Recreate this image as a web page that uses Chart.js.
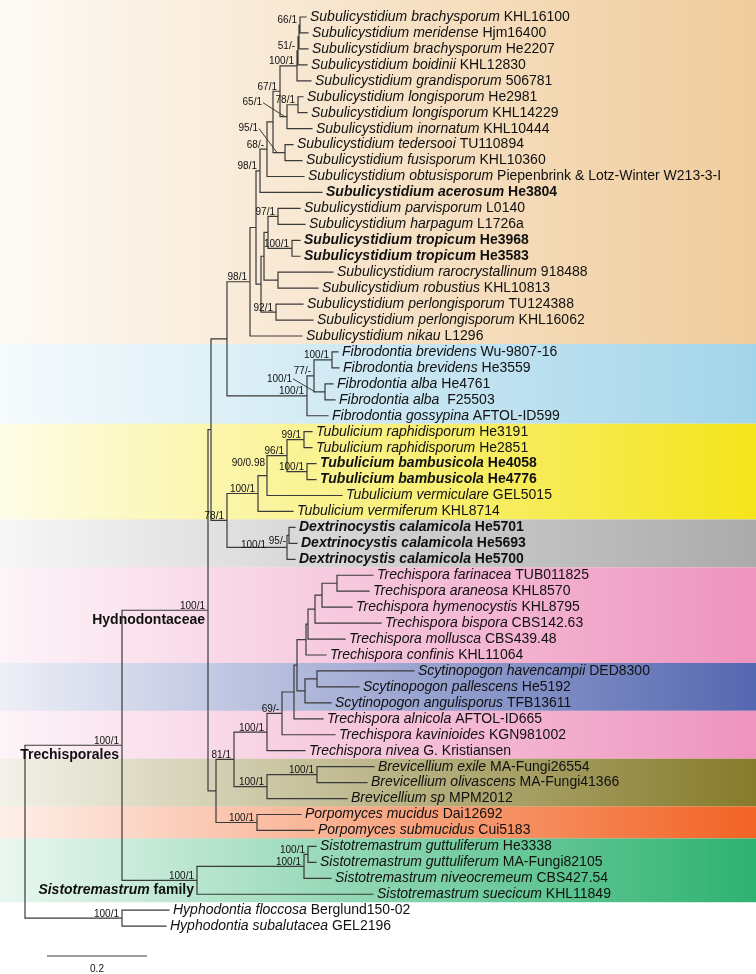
<!DOCTYPE html>
<html>
<head>
<meta charset="utf-8">
<script src="https://cdn.jsdelivr.net/npm/chart.js@4.4.1/dist/chart.umd.min.js"></script>
<style>
  html, body { margin: 0; padding: 0; background: #fff; }
  #wrap { width: 756px; height: 974px; position: relative; }
</style>
</head>
<body>
<div id="wrap"><canvas id="tree"></canvas></div>
<script>
// leaves, top to bottom: [italic name, voucher]
const taxa = [
  ['Subulicystidium brachysporum', 'KHL16100'],
  ['Subulicystidium meridense', 'Hjm16400'],
  ['Subulicystidium brachysporum', 'He2207'],
  ['Subulicystidium boidinii', 'KHL12830'],
  ['Subulicystidium grandisporum', '506781'],
  ['Subulicystidium longisporum', 'He2981'],
  ['Subulicystidium longisporum', 'KHL14229'],
  ['Subulicystidium inornatum', 'KHL10444'],
  ['Subulicystidium tedersooi', 'TU110894'],
  ['Subulicystidium fusisporum', 'KHL10360'],
  ['Subulicystidium obtusisporum', 'Piepenbrink & Lotz-Winter W213-3-I'],
  ['Subulicystidium acerosum', 'He3804'],
  ['Subulicystidium parvisporum', 'L0140'],
  ['Subulicystidium harpagum', 'L1726a'],
  ['Subulicystidium tropicum', 'He3968'],
  ['Subulicystidium tropicum', 'He3583'],
  ['Subulicystidium rarocrystallinum', '918488'],
  ['Subulicystidium robustius', 'KHL10813'],
  ['Subulicystidium perlongisporum', 'TU124388'],
  ['Subulicystidium perlongisporum', 'KHL16062'],
  ['Subulicystidium nikau', 'L1296'],
  ['Fibrodontia brevidens', 'Wu-9807-16'],
  ['Fibrodontia brevidens', 'He3559'],
  ['Fibrodontia alba', 'He4761'],
  ['Fibrodontia alba', ' F25503'],
  ['Fibrodontia gossypina', 'AFTOL-ID599'],
  ['Tubulicium raphidisporum', 'He3191'],
  ['Tubulicium raphidisporum', 'He2851'],
  ['Tubulicium bambusicola', 'He4058'],
  ['Tubulicium bambusicola', 'He4776'],
  ['Tubulicium vermiculare', 'GEL5015'],
  ['Tubulicium vermiferum', 'KHL8714'],
  ['Dextrinocystis calamicola', 'He5701'],
  ['Dextrinocystis calamicola', 'He5693'],
  ['Dextrinocystis calamicola', 'He5700'],
  ['Trechispora farinacea', 'TUB011825'],
  ['Trechispora araneosa', 'KHL8570'],
  ['Trechispora hymenocystis', 'KHL8795'],
  ['Trechispora bispora', 'CBS142.63'],
  ['Trechispora mollusca', 'CBS439.48'],
  ['Trechispora confinis', 'KHL11064'],
  ['Scytinopogon havencampii', 'DED8300'],
  ['Scytinopogon pallescens', 'He5192'],
  ['Scytinopogon angulisporus', 'TFB13611'],
  ['Trechispora alnicola', 'AFTOL-ID665'],
  ['Trechispora kavinioides', 'KGN981002'],
  ['Trechispora nivea', 'G. Kristiansen'],
  ['Brevicellium exile', 'MA-Fungi26554'],
  ['Brevicellium olivascens', 'MA-Fungi41366'],
  ['Brevicellium sp', 'MPM2012'],
  ['Porpomyces mucidus', 'Dai12692'],
  ['Porpomyces submucidus', 'Cui5183'],
  ['Sistotremastrum guttuliferum', 'He3338'],
  ['Sistotremastrum guttuliferum', 'MA-Fungi82105'],
  ['Sistotremastrum niveocremeum', 'CBS427.54'],
  ['Sistotremastrum suecicum', 'KHL11849'],
  ['Hyphodontia floccosa', 'Berglund150-02'],
  ['Hyphodontia subalutacea', 'GEL2196']
];

// new species, printed in bold
const boldLeaves = [11, 14, 15, 28, 29, 32, 33, 34];

// distance of each tip from the root (substitutions per site)
const tipDepth = [
  0.562, 0.566, 0.566, 0.564, 0.572, 0.556, 0.564, 0.574, 0.536, 0.554,
  0.558, 0.594, 0.550, 0.560, 0.550, 0.550, 0.616, 0.586, 0.556, 0.576,
  0.554, 0.626, 0.628, 0.616, 0.620, 0.606, 0.574, 0.574, 0.582, 0.582,
  0.634, 0.536, 0.540, 0.544, 0.540, 0.696, 0.688, 0.654, 0.712, 0.640,
  0.602, 0.778, 0.668, 0.612, 0.596, 0.620, 0.560, 0.698, 0.684, 0.644,
  0.552, 0.578, 0.582, 0.582, 0.612, 0.696, 0.288, 0.282
];

// internal nodes, children first: [id, children, depth, ML bootstrap / BI pp]
const nodes = [
  ['N1', [0, 1], 0.550, '66/1'],
  ['N2', ['N1', 2], 0.548, ''],
  ['N3', ['N2', 3], 0.546, '51/-'],
  ['N4', ['N3', 4], 0.544, '100/1'],
  ['N5', [5, 6], 0.546, '78/1'],
  ['N6', ['N5', 7], 0.524, '65/1'],
  ['N7', ['N4', 'N6'], 0.510, '67/1'],
  ['N8', [8, 9], 0.520, '95/1'],
  ['N9', ['N7', 'N8'], 0.496, ''],
  ['N10', ['N9', 10], 0.484, '68/-'],
  ['N11', ['N10', 11], 0.470, '98/1'],
  ['N12', [12, 13], 0.506, '97/1'],
  ['N13', [14, 15], 0.534, '100/1'],
  ['N14', ['N12', 'N13'], 0.486, ''],
  ['N15', [16, 17], 0.506, ''],
  ['N16', ['N14', 'N15'], 0.478, ''],
  ['N17', [18, 19], 0.502, '92/1'],
  ['N18', ['N16', 'N17'], 0.472, ''],
  ['N19', ['N11', 'N18'], 0.462, ''],
  ['N20', ['N19', 20], 0.450, '98/1'],
  ['F1', [21, 22], 0.614, '100/1'],
  ['F2', [23, 24], 0.600, '100/1'],
  ['F3', ['F1', 'F2'], 0.578, '77/-'],
  ['F4', ['F3', 25], 0.564, '100/1'],
  ['SF', ['N20', 'F4'], 0.404, ''],
  ['T1', [26, 27], 0.558, '99/1'],
  ['T2', [28, 29], 0.564, '100/1'],
  ['T3', ['T1', 'T2'], 0.524, '96/1'],
  ['T4', ['T3', 30], 0.484, '90/0.98'],
  ['T5', ['T4', 31], 0.466, '100/1'],
  ['D1', [32, 33], 0.528, '95/-'],
  ['D2', ['D1', 34], 0.524, '100/1'],
  ['TD', ['T5', 'D2'], 0.404, '78/1'],
  ['P', ['SF', 'TD'], 0.372, ''],
  ['R1', [35, 36], 0.624, ''],
  ['R2', ['R1', 37], 0.594, ''],
  ['R3', ['R2', 38], 0.580, ''],
  ['R4', ['R3', 39], 0.566, ''],
  ['R5', ['R4', 40], 0.562, ''],
  ['S1', [41, 42], 0.584, ''],
  ['S2', ['S1', 43], 0.560, ''],
  ['Y', ['R5', 'S2'], 0.544, ''],
  ['X', ['Y', 44], 0.538, ''],
  ['Z', ['X', 45], 0.514, '69/-'],
  ['K', ['Z', 46], 0.484, '100/1'],
  ['B1', [47, 48], 0.584, '100/1'],
  ['B2', ['B1', 49], 0.484, '100/1'],
  ['L', ['K', 'B2'], 0.418, '81/1'],
  ['PO', [50, 51], 0.464, '100/1'],
  ['M', ['L', 'PO'], 0.382, ''],
  ['H', ['P', 'M'], 0.366, '100/1'],
  ['S3', [52, 53], 0.566, '100/1'],
  ['S4', ['S3', 54], 0.558, '100/1'],
  ['S5', ['S4', 55], 0.344, '100/1'],
  ['TR', ['H', 'S5'], 0.194, '100/1'],
  ['HY', [56, 57], 0.194, '100/1'],
  ['ROOT', ['TR', 'HY'], 0.000, '']
];

const cladeNames = [
  ['H', 'Hydnodontaceae'],
  ['TR', 'Trechisporales'],
  ['S5', 'Sistotremastrum family']
];

// shaded genus blocks: first leaf, last leaf, colour at the right edge
const bandFirst = [0, 21, 26, 32, 35, 41, 44, 47, 50, 52];
const bandLast = [20, 25, 31, 34, 40, 43, 46, 49, 51, 55];
const bandColors = ['#f0cc9c', '#a3d5ea', '#f4e51a', '#ababab', '#ee94be',
                    '#5567b0', '#ee94be', '#857b2a', '#f26324', '#2db270'];

const scaleBar = [0.044, 0.244];
const scaleLabel = '0.2';

// labels that sit away from their node with a pointer line: [dx, dy, pointer end dx] in px
const leaders = { N6: [-25, -14, -2], N8: [-27, -24, -8], F2: [-33, -13, -10] };
// small nudges for crowded support values: [dx, dy] in px
const nudges = { D1: [0, 10], D2: [-18, 2], T4: [1, -8] };

const FONT = '"Liberation Sans", Arial, sans-serif';
const LINE = '#3a3a3a';
const TIP_SIZE = 14;

// lay out the tree: tips on rows, internal nodes halfway between their outer children
const pos = {};
taxa.forEach((t, i) => { pos[i] = { x: tipDepth[i], y: i }; });
nodes.forEach(([id, kids, depth]) => {
  const ys = kids.map(k => pos[k].y);
  pos[id] = { x: depth, y: (ys[0] + ys[ys.length - 1]) / 2 };
});

const branchPoints = [];
const gap = { x: null, y: null };
nodes.forEach(([id, kids]) => {
  const p = pos[id];
  const ys = kids.map(k => pos[k].y);
  branchPoints.push({ x: p.x, y: ys[0] }, { x: p.x, y: ys[ys.length - 1] }, gap);
  kids.forEach(k => {
    branchPoints.push({ x: p.x, y: pos[k].y }, { x: pos[k].x, y: pos[k].y }, gap);
  });
});

const scaleRow = taxa.length + 0.87;

function rgba(hex, a) {
  const n = parseInt(hex.slice(1), 16);
  return `rgba(${n >> 16}, ${(n >> 8) & 255}, ${n & 255}, ${a})`;
}

const treePainter = {
  id: 'treePainter',
  beforeDatasetsDraw(chart) {
    const { ctx, chartArea, scales: { y } } = chart;
    ctx.save();
    bandFirst.forEach((first, i) => {
      const top = i === 0 ? chartArea.top : y.getPixelForValue(first - 0.5);
      const bottom = y.getPixelForValue(bandLast[i] + 0.5);
      const g = ctx.createLinearGradient(chartArea.left, 0, chartArea.right, 0);
      g.addColorStop(0, rgba(bandColors[i], 0.1));
      g.addColorStop(1, rgba(bandColors[i], 1));
      ctx.fillStyle = g;
      ctx.fillRect(chartArea.left, top, chartArea.right - chartArea.left, bottom - top);
    });
    ctx.restore();
  },
  afterDatasetsDraw(chart) {
    const { ctx, scales: { x, y } } = chart;
    ctx.save();
    ctx.fillStyle = '#111';

    // tip labels
    ctx.textBaseline = 'middle';
    ctx.textAlign = 'left';
    taxa.forEach(([name, voucher], i) => {
      const bold = boldLeaves.includes(i) ? 'bold ' : '';
      let px = x.getPixelForValue(tipDepth[i]) + 4;
      const py = y.getPixelForValue(i);
      ctx.font = `italic ${bold}${TIP_SIZE}px ${FONT}`;
      ctx.fillText(name, px, py);
      px += ctx.measureText(name + ' ').width;
      ctx.font = `${bold}${TIP_SIZE}px ${FONT}`;
      ctx.fillText(voucher, px, py);
    });

    // support values
    ctx.font = `10px ${FONT}`;
    ctx.textAlign = 'right';
    nodes.forEach(([id, , , support]) => {
      if (!support) return;
      const nx = x.getPixelForValue(pos[id].x);
      const ny = y.getPixelForValue(pos[id].y);
      if (leaders[id]) {
        const [dx, dy, ex] = leaders[id];
        ctx.textBaseline = 'middle';
        ctx.fillText(support, nx + dx, ny + dy);
        ctx.strokeStyle = LINE;
        ctx.lineWidth = 1;
        ctx.beginPath();
        ctx.moveTo(nx + dx + 1, ny + dy);
        ctx.lineTo(nx + ex, ny);
        ctx.stroke();
      } else {
        const [dx, dy] = nudges[id] || [0, 0];
        ctx.textBaseline = 'alphabetic';
        ctx.fillText(support, nx - 3 + dx, ny - 1.5 + dy);
      }
    });

    // clade names under their stem
    ctx.textBaseline = 'top';
    cladeNames.forEach(([id, label]) => {
      const nx = x.getPixelForValue(pos[id].x) - 3;
      const ny = y.getPixelForValue(pos[id].y) + 3;
      const words = label.split(' ');
      if (words.length > 1) {
        ctx.font = `bold 14px ${FONT}`;
        const rest = ' ' + words.slice(1).join(' ');
        ctx.fillText(rest, nx, ny);
        const w = ctx.measureText(rest).width;
        ctx.font = `italic bold 14px ${FONT}`;
        ctx.fillText(words[0], nx - w, ny);
      } else {
        ctx.font = `bold 14px ${FONT}`;
        ctx.fillText(label, nx, ny);
      }
    });

    // scale bar label
    ctx.font = `10px ${FONT}`;
    ctx.textAlign = 'center';
    ctx.textBaseline = 'middle';
    ctx.fillText(scaleLabel, x.getPixelForValue((scaleBar[0] + scaleBar[1]) / 2),
                 y.getPixelForValue(scaleRow) + 13);
    ctx.restore();
  }
};

new Chart(document.getElementById('tree'), {
  type: 'scatter',
  data: {
    datasets: [
      {
        data: branchPoints,
        showLine: true,
        spanGaps: false,
        borderColor: LINE,
        borderWidth: 1.2,
        borderCapStyle: 'square',
        pointRadius: 0
      },
      {
        data: scaleBar.map(v => ({ x: v, y: scaleRow })),
        showLine: true,
        borderColor: LINE,
        borderWidth: 1.2,
        pointRadius: 0
      }
    ]
  },
  options: {
    responsive: true,
    maintainAspectRatio: false,
    animation: false,
    layout: { padding: 0 },
    plugins: { legend: { display: false }, tooltip: { enabled: false } },
    scales: {
      x: { type: 'linear', min: -0.05, max: 1.462, display: false },
      y: { type: 'linear', min: -1.066, max: 60.0, reverse: true, display: false }
    }
  },
  plugins: [treePainter]
});
</script>
</body>
</html>
